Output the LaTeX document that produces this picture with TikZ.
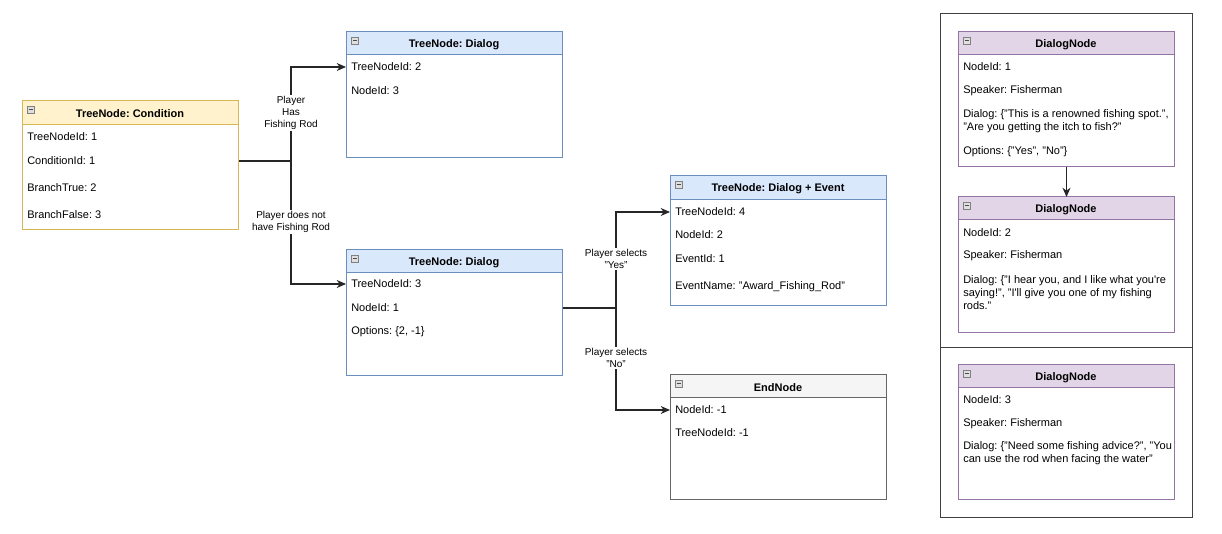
\documentclass[tikz,border=0pt]{standalone}
\usepackage{fontspec}
\setmainfont{Liberation Sans}
\usetikzlibrary{arrows.meta}
\definecolor{condfill}{HTML}{FFF2CC}
\definecolor{conddraw}{HTML}{D6B656}
\definecolor{dlgfill}{HTML}{DAE8FC}
\definecolor{dlgdraw}{HTML}{6C8EBF}
\definecolor{endfill}{HTML}{F5F5F5}
\definecolor{enddraw}{HTML}{666666}
\definecolor{dnfill}{HTML}{E1D5E7}
\definecolor{dndraw}{HTML}{9673A6}
\frenchspacing
\tikzset{
  rowtext/.style={anchor=west, inner xsep=3.75pt, inner ysep=0pt, align=left, font=\fontsize{8.25}{9.75}\selectfont},
  boxtitle/.style={inner sep=0pt, font=\fontsize{8.25}{9.75}\selectfont\bfseries},
  edgelabel/.style={fill=white, inner sep=1pt, align=center, font=\fontsize{7.5}{9}\selectfont},
  conn/.style={draw=black!85, line width=0.8pt, -{Stealth[length=7pt,width=6pt]}},
  wire/.style={draw=black!85, line width=0.8pt}
}
% box: name, x1, y1, x2, y2, header bottom, colour prefix, title
\newcommand{\umlbox}[8]{
  \node[draw=#7draw, fill=white, line width=0.75pt, inner sep=0pt, anchor=north west,
    minimum width={(#4-#2)*0.75pt}, minimum height={(#5-#3)*0.75pt}] (#1) at (#2,#3) {};
  \draw[fill=#7fill, draw=#7draw, line width=0.75pt] (#2,#3) rectangle (#4,#6);
  \node[boxtitle] (#1title) at ({(#2+#4)/2},{(#3+#6)/2+1}) {#8};
  \draw[fill=gray!25, draw=gray, line width=0.5pt] (#2+5,#3+5) rectangle (#2+12,#3+12);
  \draw[black!70, line width=0.75pt] (#2+6.5,#3+8.5) -- (#2+10.5,#3+8.5);
}
\newcommand{\fieldrow}[4]{\node[rowtext] (#1) at (#2,#3) {#4};}

\begin{document}
\begin{tikzpicture}[x=0.75pt, y=-0.75pt]
\useasboundingbox (0,0) rectangle (1222,534);
% condition node
\umlbox{cond}{22}{101}{238}{229}{125}{cond}{TreeNode: Condition}
\fieldrow{ctn}{22}{137}{TreeNodeId: 1}
\fieldrow{ccid}{22}{161}{ConditionId: 1}
\fieldrow{cbt}{22}{188}{BranchTrue: 2}
\fieldrow{cbf}{22}{215}{BranchFalse: 3}
% dialog nodes
\umlbox{dlga}{346}{32}{562}{157}{55}{dlg}{TreeNode: Dialog}
\fieldrow{atn}{346}{67}{TreeNodeId: 2}
\fieldrow{anid}{346}{91}{NodeId: 3}
\umlbox{dlgb}{346}{250}{562}{375}{273}{dlg}{TreeNode: Dialog}
\fieldrow{btn}{346}{284}{TreeNodeId: 3}
\fieldrow{bnid}{346}{308}{NodeId: 1}
\fieldrow{bopt}{346}{332}{Options: \{2, -1\}}
% dialog + event node
\umlbox{evt}{670}{176}{886}{305}{200}{dlg}{TreeNode: Dialog + Event}
\fieldrow{etn}{670}{212}{TreeNodeId: 4}
\fieldrow{enid}{670}{235}{NodeId: 2}
\fieldrow{eeid}{670}{259}{EventId: 1}
\fieldrow{ename}{670}{287}{EventName: "Award\_Fishing\_Rod"}
% end node
\umlbox{endn}{670}{375}{886}{499}{398}{end}{EndNode}
\fieldrow{xnid}{670}{410}{NodeId: -1}
\fieldrow{xtn}{670}{433}{TreeNodeId: -1}
% connectors
\coordinate (split1) at (291,161);
\coordinate (split2) at (616,308);
\draw[wire] (ccid.west -| cond.east) -- (split1);
\draw[conn] (split1) |- (atn.west);
\draw[conn] (split1) |- (btn.west);
\draw[wire] (bnid.west -| dlgb.east) -- (split2);
\draw[conn] (split2) |- (etn.west);
\draw[conn] (split2) |- (xnid.west);
\node[edgelabel] (lblhas) at (291,113) {Player\\Has\\Fishing Rod};
\node[edgelabel] (lblnot) at (291,222) {Player does not\\have Fishing Rod};
\node[edgelabel] (lblyes) at (616,259) {Player selects\\"Yes"};
\node[edgelabel] (lblno) at (616,358) {Player selects\\"No"};
% dialog frame
\draw[draw=black!75, line width=0.75pt] (940,14) rectangle (1192,518);
\draw[draw=black!75, line width=0.75pt] (940,348) -- (1192,348);
\umlbox{dn1}{958}{32}{1174}{166}{55}{dn}{DialogNode}
\fieldrow{d1nid}{958}{67}{NodeId: 1}
\fieldrow{d1spk}{958}{91}{Speaker: Fisherman}
\fieldrow{d1dlg}{958}{121.5}{Dialog: \{"This is a renowned fishing spot.",\\"Are you getting the itch to fish?"}
\fieldrow{d1opt}{958}{152}{Options: \{"Yes", "No"\}}
\umlbox{dn2}{958}{197}{1174}{332}{220}{dn}{DialogNode}
\fieldrow{d2nid}{958}{233}{NodeId: 2}
\fieldrow{d2spk}{958}{256}{Speaker: Fisherman}
\fieldrow{d2dlg}{958}{292.5}{Dialog: \{"I hear you, and I like what you\textquotesingle re\\saying!", "I\textquotesingle ll give you one of my fishing\\rods."}
\umlbox{dn3}{958}{365}{1174}{499}{388}{dn}{DialogNode}
\fieldrow{d3nid}{958}{400}{NodeId: 3}
\fieldrow{d3spk}{958}{424}{Speaker: Fisherman}
\fieldrow{d3dlg}{958}{453.5}{Dialog: \{"Need some fishing advice?", "You\\can use the rod when facing the water"}
\draw[conn] (dn1) -- (dn2);
\end{tikzpicture}
\end{document}
